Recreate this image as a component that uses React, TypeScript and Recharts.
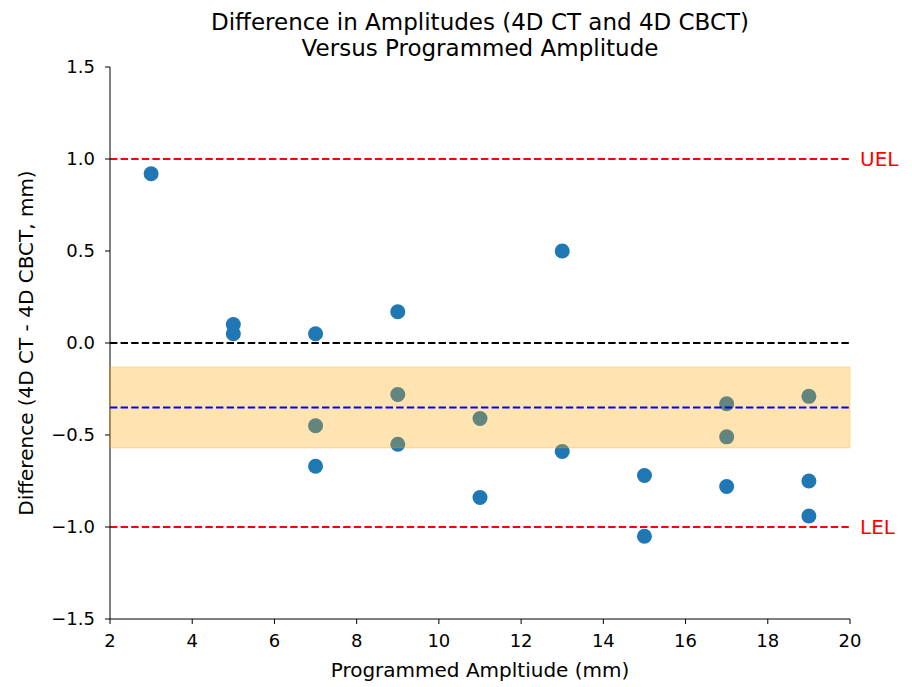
import React from "react";
import {
  ReferenceArea,
  ReferenceLine,
  Scatter,
  ScatterChart,
  XAxis,
  YAxis,
} from "recharts";

// readings (programmed amplitude in mm, difference in mm)
const amplitudes = [3, 5, 5, 7, 7, 7, 9, 9, 9, 11, 11, 13, 13, 15, 15, 17, 17, 17, 19, 19, 19];
const differences = [
  0.92, 0.1, 0.05, 0.05, -0.45, -0.67, 0.17, -0.28, -0.55, -0.41, -0.84, 0.5, -0.59, -0.72,
  -1.05, -0.33, -0.51, -0.78, -0.29, -0.75, -0.94,
];
const xTicks = [2, 4, 6, 8, 10, 12, 14, 16, 18, 20];
const yTicks = [-1.5, -1.0, -0.5, 0.0, 0.5, 1.0, 1.5];
const upperLimit = 1.0;
const lowerLimit = -1.0;
const meanDiff = -0.35;
const bandLow = -0.57;
const bandHigh = -0.13;

const points = amplitudes.map((x, i) => ({ x, y: differences[i] }));

const font = "DejaVu Sans, sans-serif";
const tickStyle = { fontSize: 18, fill: "#000", fontFamily: font };
const dash = "7.4 3.2";
const fmt = (v: number) => v.toFixed(1).replace("-", "\u2212");

const Dot = (p: any) => <circle cx={p.cx} cy={p.cy} r={7.5} fill="#1f77b4" />;

export default function App() {
  return (
    <div style={{ position: "absolute", left: 0, top: 0, width: 912, height: 687, fontFamily: font, background: "#fff" }}>
      <div
        style={{
          position: "absolute",
          left: 80,
          width: 800,
          top: 9,
          textAlign: "center",
          fontSize: 23,
          lineHeight: "26px",
          color: "#000",
        }}
      >
        Difference in Amplitudes (4D CT and 4D CBCT)
        <br />
        Versus Programmed Amplitude
      </div>
      <ScatterChart width={912} height={687} margin={{ top: 67, right: 62, bottom: 0, left: 0 }}>
        <XAxis
          type="number"
          dataKey="x"
          domain={[2, 20]}
          ticks={xTicks}
          tick={tickStyle}
          tickLine={{ stroke: "#000" }}
          axisLine={{ stroke: "#000" }}
          tickSize={5}
          tickMargin={10}
          height={68}
          label={{ value: "Programmed Ampltiude (mm)", position: "insideBottom", offset: 10, style: { fontSize: 20, fill: "#000", fontFamily: font } }}
        />
        <XAxis xAxisId="top" orientation="top" type="number" domain={[2, 20]} tick={false} tickLine={false} axisLine={{ stroke: "#000" }} height={0} />
        <YAxis
          type="number"
          dataKey="y"
          domain={[-1.5, 1.5]}
          ticks={yTicks}
          tickFormatter={fmt}
          tick={tickStyle}
          tickLine={{ stroke: "#000" }}
          axisLine={{ stroke: "#000" }}
          tickSize={5}
          tickMargin={10}
          width={110}
          label={{
            value: "Difference (4D CT - 4D CBCT, mm)",
            angle: -90,
            position: "insideLeft",
            offset: 26,
            style: { textAnchor: "middle", fontSize: 20, fill: "#000", fontFamily: font },
          }}
        />
        <YAxis yAxisId="right" orientation="right" type="number" domain={[-1.5, 1.5]} tick={false} tickLine={false} axisLine={{ stroke: "#000" }} width={0} />
        <ReferenceLine y={0} stroke="#000" strokeWidth={2} strokeDasharray={dash} />
        <ReferenceLine
          y={upperLimit}
          stroke="#ff0000"
          strokeWidth={2}
          strokeDasharray={dash}
          label={{ value: "UEL", position: "right", offset: 10, fill: "#ff0000", fontSize: 20, fontFamily: font }}
        />
        <ReferenceLine
          y={lowerLimit}
          stroke="#ff0000"
          strokeWidth={2}
          strokeDasharray={dash}
          label={{ value: "LEL", position: "right", offset: 10, fill: "#ff0000", fontSize: 20, fontFamily: font }}
        />
        <Scatter data={points} shape={Dot} isAnimationActive={false} />
        <ReferenceArea
          y1={bandLow}
          y2={bandHigh}
          fill="#ffa500"
          fillOpacity={0.3}
          stroke="#ffa500"
          strokeOpacity={0.3}
          zIndex={800}
        />
        <ReferenceLine y={meanDiff} stroke="#0000ff" strokeWidth={2} strokeDasharray={dash} zIndex={900} />
      </ScatterChart>
    </div>
  );
}
